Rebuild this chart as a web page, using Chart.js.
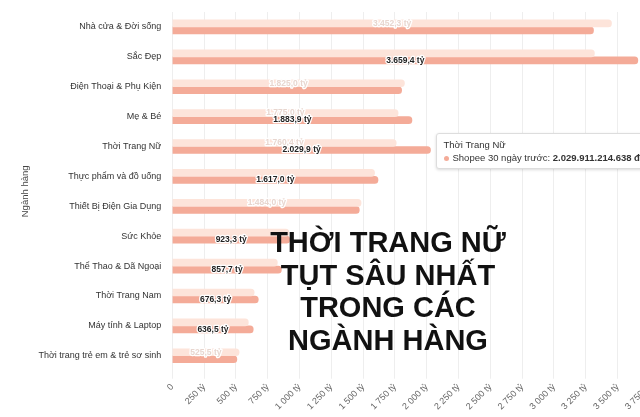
<!DOCTYPE html>
<html><head><meta charset="utf-8">
<script src="https://cdn.jsdelivr.net/npm/chart.js@4"></script>
<style>
body{margin:0;width:640px;height:417px;overflow:hidden;background:#fff;font-family:"Liberation Sans",Arial,sans-serif;position:relative}
#wrap{position:absolute;left:0;top:0;width:660px;height:417px}
#overlay{position:absolute;left:268px;top:226px;width:240px;text-align:center;font-weight:bold;font-size:29px;line-height:32.5px;color:#111;font-family:"Liberation Sans Narrow","Liberation Sans",Arial,sans-serif}
#tip{position:absolute;background:#fff;border:1px solid #ddd;border-radius:3px;padding:4px 7px;font-size:9.5px;color:#333;white-space:nowrap;line-height:13px;box-shadow:0 1px 3px rgba(0,0,0,.15)}
#tip .dot{display:inline-block;width:5px;height:5px;border-radius:50%;background:#f4ab98;margin-right:4px;vertical-align:middle}
</style></head><body>
<div id="wrap"><canvas id="c"></canvas></div>
<div id="overlay">THỜI TRANG NỮ TỤT SÂU NHẤT<br>TRONG CÁC NGÀNH HÀNG</div>
<div id="tip" style="display:none"></div>
<script>
const categories = ["Nhà cửa & Đời sống","Sắc Đẹp","Điện Thoại & Phụ Kiện","Mẹ & Bé","Thời Trang Nữ","Thực phẩm và đồ uống","Thiết Bị Điện Gia Dụng","Sức Khỏe","Thể Thao & Dã Ngoại","Thời Trang Nam","Máy tính & Laptop","Thời trang trẻ em & trẻ sơ sinh"];
const previousValues = [3452.3, 3318.0, 1825.0, 1775.0, 1760.4, 1590.0, 1484.0, 917.0, 826.0, 644.0, 598.0, 525.5];
const last30Values = [3311.0, 3659.4, 1803.0, 1883.9, 2029.911214638, 1617.0, 1470.0, 923.3, 857.7, 676.3, 636.5, 508.0];
const showPrevLabel = [true,false,true,true,true,false,true,false,false,false,false,true];
const showLastLabel = [false,true,false,true,true,true,false,true,true,true,true,false];
const tickStep = 250;

const fmt = (v, d) => v.toLocaleString('de-DE', {minimumFractionDigits:d, maximumFractionDigits:d});

const labelPlugin = {
  id: 'barLabels',
  afterDatasetsDraw(chart) {
    const ctx = chart.ctx;
    ctx.save();
    ctx.font = 'bold 8.5px "Liberation Sans", Arial';
    ctx.textAlign = 'center';
    ctx.textBaseline = 'middle';
    ctx.lineJoin = 'round';
    [showPrevLabel, showLastLabel].forEach((flags, di) => {
      chart.getDatasetMeta(di).data.forEach((bar, i) => {
        if (!flags[i]) return;
        const x = (bar.x + bar.base) / 2;
        const txt = fmt(chart.data.datasets[di].data[i], 1) + ' tỷ';
        ctx.lineWidth = 2.5;
        ctx.strokeStyle = '#fff';
        ctx.strokeText(txt, x, bar.y);
        ctx.fillStyle = di === 0 ? '#e8d6cf' : '#222';
        ctx.fillText(txt, x, bar.y);
      });
    });
    ctx.restore();
  }
};

const tipEl = document.getElementById('tip');
function externalTip(context) {
  const t = context.tooltip;
  if (t.opacity === 0) { tipEl.style.display = 'none'; return; }
  const dp = t.dataPoints[0];
  tipEl.innerHTML = dp.label + '<br><span class="dot"></span>' + dp.dataset.label + ': <b>' +
    fmt(Math.round(dp.raw * 1e9), 0) + ' đồng</b>';
  tipEl.style.display = 'block';
  tipEl.style.left = (t.caretX + 5) + 'px';
  tipEl.style.top = (t.caretY - 17) + 'px';
}

const chart = new Chart(document.getElementById('c'), {
  type: 'bar',
  data: {
    labels: categories,
    datasets: [
      { label: 'Shopee kỳ trước', data: previousValues, backgroundColor: '#fde4da', borderRadius: 4, barThickness: 7 },
      { label: 'Shopee 30 ngày trước', data: last30Values, backgroundColor: '#f4ab98', borderRadius: 4, barThickness: 7 }
    ]
  },
  options: {
    indexAxis: 'y',
    responsive: true,
    maintainAspectRatio: false,
    animation: false,
    layout: { padding: { top: 12, right: 0, left: 16, bottom: 2 } },
    plugins: {
      legend: { display: false },
      tooltip: { enabled: false, external: externalTip }
    },
    scales: {
      x: {
        min: 0, max: 3750,
        ticks: { stepSize: tickStep, maxRotation: 45, minRotation: 45, color: '#666', font: { size: 9 },
          callback: v => (v === 0 ? '0' : v.toLocaleString('fr-FR').replace(/\u202f|\u00a0/g, ' ') + ' tỷ') },
        grid: { color: '#eee' },
        border: { display: false }
      },
      y: {
        ticks: { color: '#333', font: { size: 9 } },
        grid: { display: false },
        border: { display: false },
        title: { display: true, text: 'Ngành hàng', color: '#444', font: { size: 9.5 } }
      }
    }
  },
  plugins: [labelPlugin]
});

chart.tooltip.setActiveElements([{ datasetIndex: 1, index: 4 }], { x: 0, y: 0 });
chart.update();
</script>
</body></html>
